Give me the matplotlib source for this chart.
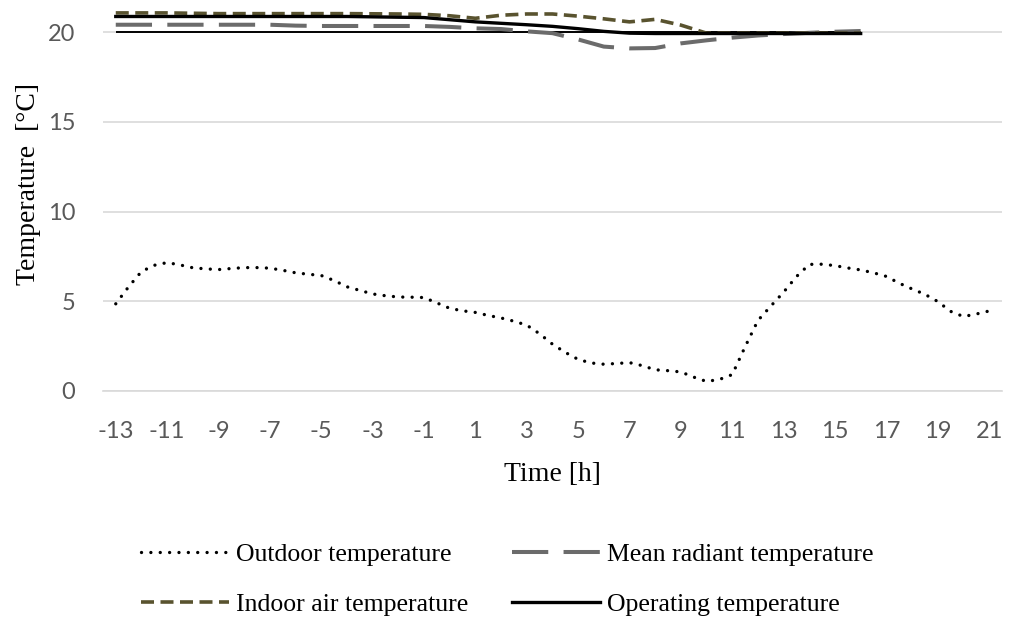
import numpy as np
import matplotlib.pyplot as plt

plt.rcParams['axes.unicode_minus'] = False

# outdoor temperature, read every half hour from -13 h to 21 h
t_out = np.arange(-13, 21.5, 0.5)
outdoor = [4.85, 5.8, 6.65, 7.0, 7.15, 7.02, 6.86, 6.8, 6.76, 6.82, 6.87, 6.87,
           6.84, 6.72, 6.58, 6.5, 6.43, 6.15, 5.8, 5.6, 5.4, 5.3, 5.23, 5.22,
           5.2, 4.9, 4.6, 4.46, 4.37, 4.2, 4.06, 3.88, 3.66, 3.18, 2.6, 2.14,
           1.75, 1.55, 1.48, 1.52, 1.57, 1.4, 1.17, 1.12, 1.05, 0.76, 0.52, 0.63,
           0.9, 2.45, 3.92, 4.72, 5.5, 6.37, 7.05, 7.06, 6.98, 6.85, 6.74, 6.58,
           6.38, 6.0, 5.68, 5.38, 4.98, 4.43, 4.14, 4.28, 4.45]

# indoor series, hourly from -13 h to 16 h
t_in = np.arange(-13, 17)
indoor_air = [21.08, 21.08, 21.08, 21.06, 21.04, 21.04, 21.04, 21.04, 21.04, 21.04,
              21.03, 21.02, 21.0, 20.92, 20.78, 20.95, 21.02, 21.02, 20.9, 20.75,
              20.58, 20.72, 20.4, 19.95, 19.95, 19.95, 19.95, 19.95, 19.95, 19.95]
mean_radiant = [20.42, 20.42, 20.42, 20.42, 20.42, 20.42, 20.42, 20.37, 20.35, 20.35,
                20.35, 20.35, 20.35, 20.3, 20.22, 20.18, 20.05, 19.95, 19.6, 19.2,
                19.1, 19.12, 19.38, 19.55, 19.7, 19.82, 19.9, 19.97, 20.03, 20.07]
operating = [20.88, 20.88, 20.88, 20.88, 20.88, 20.88, 20.88, 20.88, 20.88, 20.88,
             20.86, 20.84, 20.82, 20.7, 20.58, 20.5, 20.42, 20.33, 20.2, 20.05,
             19.95, 19.93, 19.93, 19.93, 19.93, 19.93, 19.93, 19.93, 19.93, 19.93]
setpoint = 20.0

xticks = list(range(-13, 22, 2))
yticks = [0, 5, 10, 15, 20]

serif = 'Liberation Serif'

fig = plt.figure(figsize=(10.09, 6.17), dpi=100)
ax = fig.add_axes([0.102, 0.3667, 0.891, 0.6333])

ax.hlines(setpoint, t_in[0], t_in[-1], color='black', lw=1.4, zorder=2)
l_out, = ax.plot(t_out, outdoor, color='black', lw=2.4, dashes=(0.01, 2.8),
                 dash_capstyle='round', label='Outdoor temperature', zorder=3)
l_mrt, = ax.plot(t_in, mean_radiant, color='#6b6b6b', lw=2.9, dashes=(9.0, 3.8),
                 label='Mean radiant temperature', zorder=3)
l_air, = ax.plot(t_in, indoor_air, color='#59532f', lw=2.6, dashes=(3.6, 1.8),
                 label='Indoor air temperature', zorder=4)
l_op, = ax.plot(t_in, operating, color='black', lw=2.4,
                label='Operating temperature', zorder=5)

ax.set_xlim(-13.5, 21.5)
ax.set_ylim(0, 21.8)
ax.set_xticks(xticks)
ax.set_yticks(yticks)
for s in ['top', 'right', 'left']:
    ax.spines[s].set_visible(False)
ax.spines['bottom'].set_color('#d9d9d9')
ax.spines['bottom'].set_linewidth(1.2)
ax.grid(axis='y', color='#d9d9d9', lw=1.2)
ax.set_axisbelow(True)
ax.tick_params(axis='both', length=0, labelcolor='#595959', labelsize=17)
ax.tick_params(axis='y', pad=20)
ax.tick_params(axis='x', pad=22)
for lab in ax.get_xticklabels() + ax.get_yticklabels():
    lab.set_fontfamily('Lato')

ax.set_xlabel('Time [h]', fontfamily=serif, fontsize=20, labelpad=14)
ax.set_ylabel('Temperature  [°C]', fontfamily=serif, fontsize=20, labelpad=6)
ax.yaxis.set_label_coords(-0.069, 0.53)

fig.legend(handles=[l_out, l_air, l_mrt, l_op], ncol=2, loc='center',
           bbox_to_anchor=(0.503, 0.061), frameon=False,
           prop={'family': serif, 'size': 18.5}, handlelength=3.4,
           handletextpad=0.3, columnspacing=1.7, labelspacing=1.05)

fig.savefig('out.png', dpi=100)
